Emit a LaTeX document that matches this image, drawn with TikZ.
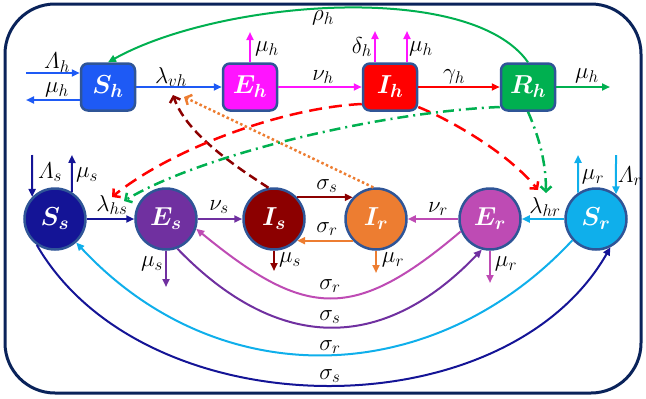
\RequirePackage{fix-cm}
\documentclass[tikz,border=0pt]{standalone}
\usepackage{amsmath}
\usetikzlibrary{arrows.meta}
\DeclareMathSizes{23}{23}{17}{12}
\DeclareMathSizes{26}{26}{19}{14}
\definecolor{cSh}{RGB}{30,90,245}
\definecolor{cEh}{RGB}{255,20,255}
\definecolor{cIh}{RGB}{255,0,0}
\definecolor{cRh}{RGB}{0,176,80}
\definecolor{cSs}{RGB}{20,20,150}
\definecolor{cEs}{RGB}{112,48,160}
\definecolor{cIs}{RGB}{140,0,0}
\definecolor{cIr}{RGB}{237,125,49}
\definecolor{cEr}{RGB}{190,75,180}
\definecolor{cSr}{RGB}{15,175,235}
\definecolor{cBd}{RGB}{47,85,151}
\definecolor{cOut}{RGB}{10,35,90}
\begin{document}
\begin{tikzpicture}[x=1pt,y=-1pt,
  box/.style={draw=cBd, line width=2.5pt, rounded corners=7pt, minimum width=54pt, minimum height=47pt, text=white, font=\boldmath\fontsize{26}{28}\selectfont, inner sep=0pt},
  cir/.style={circle, draw=cBd, line width=2.5pt, minimum size=61pt, text=white, font=\boldmath\fontsize{26}{28}\selectfont, inner sep=0pt},
  lab/.style={font=\fontsize{23}{25}\selectfont, inner sep=0pt},
  arr/.style={line width=2pt, -{Triangle[length=8pt,width=7pt]}},
  dsh/.style={line width=2.5pt, -{Straight Barb[length=5pt,width=11pt]}},
]
\useasboundingbox (0,0) rectangle (646,399);
\draw[cOut, line width=3pt, rounded corners=50pt] (5,4) rectangle (641,393);

% top row
\node[box, fill=cSh] (Sh) at (108,87) {$S_h$};
\node[box, fill=cEh] (Eh) at (250,87) {$E_h$};
\node[box, fill=cIh] (Ih) at (390,87) {$I_h$};
\node[box, fill=cRh] (Rh) at (528,87) {$R_h$};

% bottom row
\node[cir, fill=cSs] (Ss) at (55,219) {$S_s$};
\node[cir, fill=cEs] (Es) at (166,219) {$E_s$};
\node[cir, fill=cIs] (Is) at (274,219) {$I_s$};
\node[cir, fill=cIr] (Ir) at (376,219) {$I_r$};
\node[cir, fill=cEr] (Er) at (490,219) {$E_r$};
\node[cir, fill=cSr] (Sr) at (596,219) {$S_r$};

% free ends
\coordinate (LhIn) at (26,73);
\coordinate (muhS) at (26,100);
\coordinate (muhE) at (250,32);
\coordinate (dh) at (375,31);
\coordinate (muhI) at (407,31);
\coordinate (muhR) at (610,87);
\coordinate (LsIn) at (32,155);
\coordinate (musS) at (72,155);
\coordinate (murS) at (578,155);
\coordinate (LrIn) at (616,155);
\coordinate (musE) at (166,287);
\coordinate (musI) at (274,271);
\coordinate (murI) at (376,273);
\coordinate (murE) at (490,283);
\coordinate (tA) at (173,95);
\coordinate (tB) at (184,97);
\coordinate (tC) at (112,197);
\coordinate (tD) at (538,190);
\coordinate (tE) at (124,201);
\coordinate (tF) at (546,193);

% top row arrows
\draw[arr, cSh] (LhIn) -- (LhIn -| Sh.west);
\draw[arr, cSh] (muhS -| Sh.west) -- (muhS);
\draw[arr, cSh] (Sh.east) -- (Eh.west);
\draw[arr, cEh] (Eh.north) -- (muhE);
\draw[arr, cEh] (Eh.east) -- (Ih.west);
\draw[arr, cEh] (dh |- Ih.north) -- (dh);
\draw[arr, cEh] (muhI |- Ih.north) -- (muhI);
\draw[arr, cIh] (Ih.east) -- (Rh.west);
\draw[arr, cRh] (Rh.east) -- (muhR);
\draw[arr, cRh] (Rh.north) .. controls (470,-20) and (220,0) .. (Sh.north);

% bottom row arrows
\draw[arr, cSs] (LsIn) -- (Ss.136);
\draw[arr, cSs] (Ss.58) -- (musS);
\draw[arr, cSs] (Ss.east) -- (Es.west);
\draw[arr, cEs] (Es.east) -- (Is.west);
\draw[arr, cIs] (Is.43) -- (Ir.137);
\draw[arr, cIr] (Ir.-137) -- (Is.-43);
\draw[arr, cEr] (Er.west) -- (Ir.east);
\draw[arr, cSr] (Sr.west) -- (Er.east);
\draw[arr, cSr] (Sr.124) -- (murS);
\draw[arr, cSr] (LrIn) -- (Sr.51);
\draw[arr, cEs] (Es.south) -- (musE);
\draw[arr, cIs] (Is.south) -- (musI);
\draw[arr, cIr] (Ir.south) -- (murI);
\draw[arr, cEr] (Er.south) -- (murE);

% long arcs
\draw[arr, cSs] (Ss.-125) .. controls (144,430) and (504,433) .. (Sr.-63);
\draw[arr, cSr] (Sr.-138) .. controls (433,390) and (218,395) .. (Ss.-48);
\draw[arr, cEs] (Es.-69) .. controls (277,352) and (382,354) .. (Er.-105);
\draw[arr, cEr] (Er.-157) .. controls (354,322) and (306,319) .. (Es.-18);

% dashed infection links
\draw[dsh, cIs, dash pattern=on 9pt off 5pt] (Is.100) .. controls (225,160) and (185,130) .. (tA);
\draw[dsh, cIr, dash pattern=on 2.5pt off 2.5pt] (Ir.95) -- (tB);
\draw[dsh, cIh, dash pattern=on 13pt off 7pt] ([yshift=-17pt]Ih.west) .. controls (280,108) and (170,150) .. (tC);
\draw[dsh, cIh, dash pattern=on 13pt off 7pt] ([yshift=-20pt]Ih.east) .. controls (455,122) and (510,155) .. (tD);
\draw[dsh, cRh, dash pattern=on 11pt off 5pt on 2pt off 5pt] ([yshift=-20pt]Rh.west) .. controls (380,112) and (200,155) .. (tE);
\draw[dsh, cRh, dash pattern=on 11pt off 5pt on 2pt off 5pt] (Rh.south) .. controls (538,135) and (546,160) .. (tF);

% labels
\node[lab] (l1) at (57,63) {$\varLambda_h$};
\node[lab] (l2) at (57,90) {$\mu_h$};
\node[lab] (l3) at (171,77) {$\lambda_{vh}$};
\node[lab] (l4) at (267,49) {$\mu_h$};
\node[lab] (l5) at (323,77) {$\nu_h$};
\node[lab] (l6) at (362,47) {$\delta_h$};
\node[lab] (l7) at (421,49) {$\mu_h$};
\node[lab] (l8) at (454,77) {$\gamma_h$};
\node[lab] (l9) at (587,76) {$\mu_h$};
\node[lab] (l10) at (323,18) {$\rho_h$};
\node[lab] (l11) at (50,172) {$\varLambda_s$};
\node[lab] (l12) at (87,175) {$\mu_s$};
\node[lab] (l13) at (112,205) {$\lambda_{hs}$};
\node[lab] (l14) at (219,207) {$\nu_s$};
\node[lab] (l15) at (327,186) {$\sigma_s$};
\node[lab] (l16) at (327,229) {$\sigma_r$};
\node[lab] (l17) at (438,209) {$\nu_r$};
\node[lab] (l18) at (545,207) {$\lambda_{hr}$};
\node[lab] (l19) at (593,177) {$\mu_r$};
\node[lab] (l20) at (630,176) {$\varLambda_r$};
\node[lab] (l21) at (152,264) {$\mu_s$};
\node[lab] (l22) at (290,260) {$\mu_s$};
\node[lab] (l23) at (393,260) {$\mu_r$};
\node[lab] (l24) at (506,264) {$\mu_r$};
\node[lab] (l25) at (330,286) {$\sigma_r$};
\node[lab] (l26) at (330,317) {$\sigma_s$};
\node[lab] (l27) at (330,347) {$\sigma_r$};
\node[lab] (l28) at (330,376) {$\sigma_s$};
\end{tikzpicture}
\end{document}
